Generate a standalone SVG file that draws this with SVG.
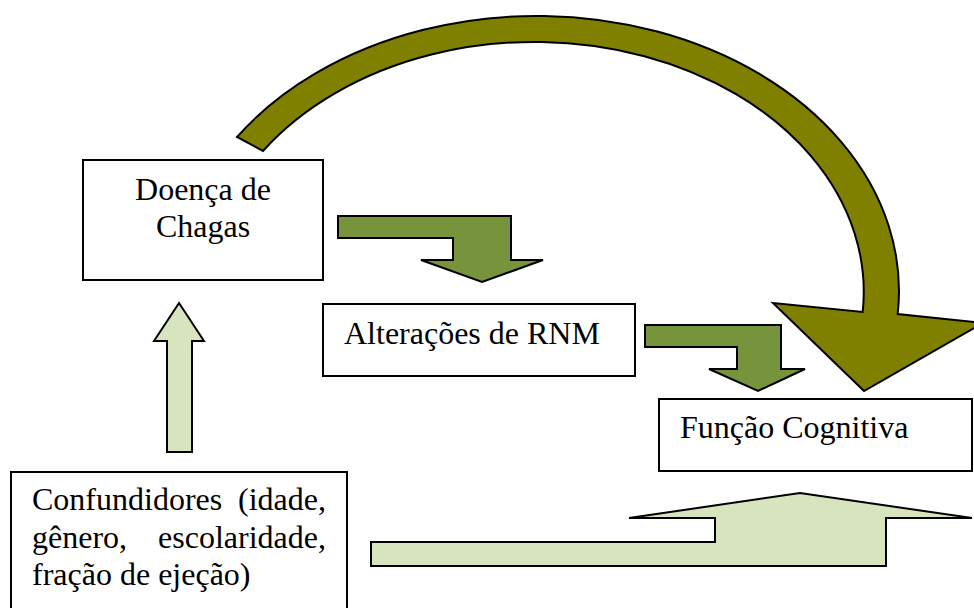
<svg xmlns="http://www.w3.org/2000/svg" width="974" height="608" viewBox="0 0 974 608">
<style>
.box{fill:#ffffff;stroke:#000000;stroke-width:2}
.t{font-family:"Liberation Serif","Times New Roman",serif;font-size:32px;fill:#000000}
.olive{fill:#808000;stroke:#000000;stroke-width:2;stroke-linejoin:miter}
.green{fill:#77933C;stroke:#000000;stroke-width:2}
.light{fill:#D7E4BD;stroke:#000000;stroke-width:2}
</style>
<rect width="974" height="608" fill="#ffffff"/>
<g id="connectors">
<path class="olive" d="M237,137 A362 275 0 0 1 897.7,314 L983,323 L864,391 L773,303 L862.7,312 A329 250 0 0 0 263,151 Z"/>
<polygon class="green" points="338,216 511,216 511,260 543,260 482,282 421,260 453,260 453,238 338,238"/>
<polygon class="green" points="645,325 781,325 781,369 805,369 758,391 709,369 737,369 737,347 645,347"/>
<polygon class="light" points="167,452 167,341 154,341 179,303 204,341 192,341 192,452"/>
<polygon class="light" points="371,542 715,542 715,518 629,518 800,493 972,518 886,518 886,566 371,566"/>
</g>
<g id="doenca">
<rect class="box" x="83" y="160" width="240" height="120"/>
<text class="t" x="203" y="200" text-anchor="middle">Doença de</text>
<text class="t" x="203" y="237" text-anchor="middle">Chagas</text>
</g>
<g id="rnm">
<rect class="box" x="323" y="304" width="312" height="72"/>
<text class="t" x="344" y="344">Alterações de RNM</text>
</g>
<g id="funcao">
<rect class="box" x="659" y="399" width="313" height="72"/>
<text class="t" x="680" y="438">Função Cognitiva</text>
</g>
<g id="confundidores">
<rect class="box" x="11" y="472" width="336" height="150"/>
<text class="t" x="32" y="510">Confundidores</text>
<text class="t" x="326" y="510" text-anchor="end">(idade,</text>
<text class="t" x="32" y="548">gênero,</text>
<text class="t" x="326" y="548" text-anchor="end">escolaridade,</text>
<text class="t" x="32" y="585">fração de ejeção)</text>
</g>
</svg>
